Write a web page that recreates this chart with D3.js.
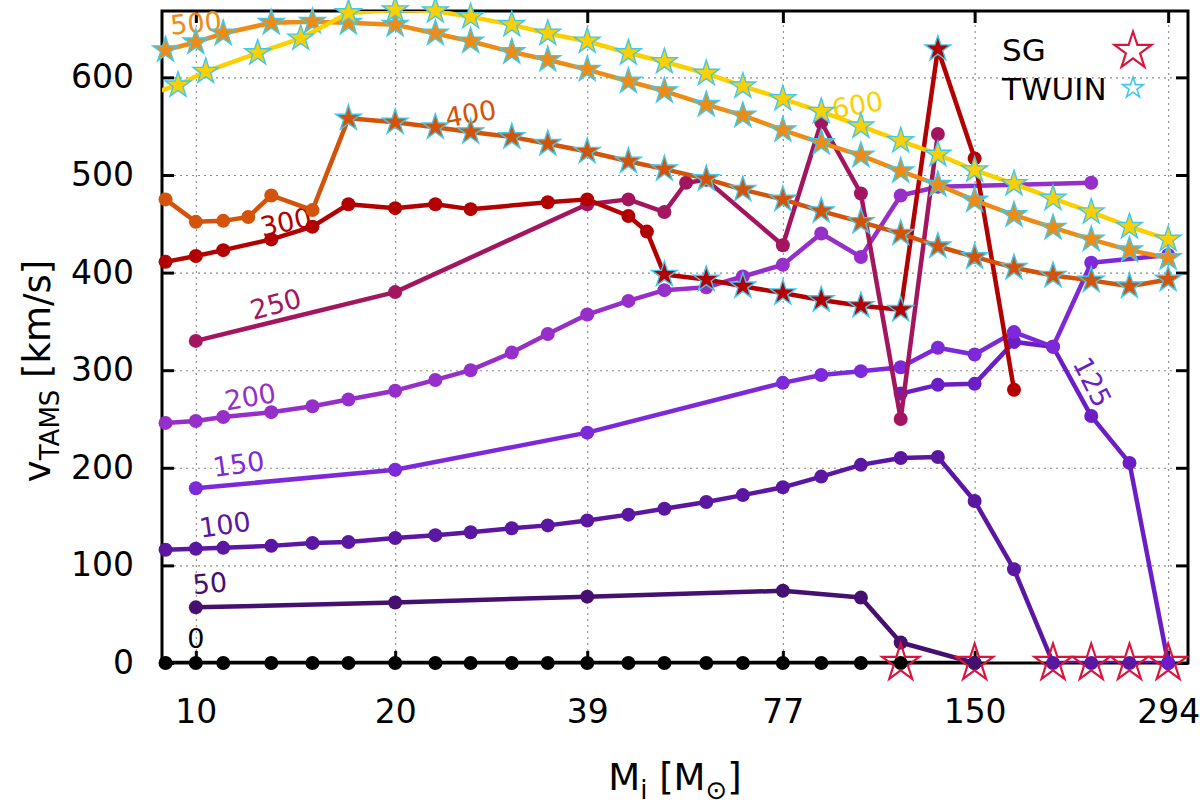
<!DOCTYPE html>
<html lang="en">
<head>
<meta charset="UTF-8">
<title>v_TAMS versus initial mass</title>
<script src="https://d3js.org/d3.v7.min.js"></script>
<style>
  body { margin: 0; background: #fff; }
  text { font-family: "DejaVu Sans", sans-serif; }
</style>
</head>
<body>
<div id="chart"></div>
<script>
// initial masses of the model grid [Msun]
const gridMass = [9,10,11,13,15,17,20,23,26,30,34,39,45,51,59,67,77,88,101,116,132,150,172,197,225,257,294];

// one pair of arrays per initial rotation (km/s)
const mass0 = [9,10,11,13,15,17,20,23,26,30,34,39,45,51,59,67,77,88,101,116,150];
const vel0  = [0,0,0,0,0,0,0,0,0,0,0,0,0,0,0,0,0,0,0,0,0];

const mass50 = [10,20,39,77,101,116,150];
const vel50  = [57,62,68,74,67,21,0];

const mass100 = gridMass;
const vel100  = [116,117,118,120,123,124,128,131,134,138,141,146,152,158,165,172,180,191,203,210,211,166,96,0,0,0,0];

const mass125 = [116,132,150,172,197,225,257,294];
const vel125  = [276,285,286,329,324,253,205,0];

const mass150 = [10,20,39,77,88,101,116,132,150,172,197,225,294];
const vel150  = [179,198,236,287,295,299,303,323,316,339,324,410,418];

const mass200 = [9,10,11,13,15,17,20,23,26,30,34,39,45,51,59,67,77,88,101,116,132,225];
const vel200  = [246,248,252,257,263,270,279,290,300,318,337,357,371,382,385,396,408,440,416,479,488,492];

const mass250 = [10,20,39,45,51,55,59,77,88,101,116,132];
const vel250  = [330,380,470,475,462,492,495,428,554,481,250,542];

const mass300  = [9,10,11,13,15,17,20,23,26,34,39,45,48,51,59,67,77,88,101,116,132,150,172];
const vel300   = [411,417,423,434,447,470,466,470,465,472,475,458,442,398,393,386,379,372,366,362,629,517,280];
const twuin300 = [51,59,67,77,88,101,116,132];

const mass400  = [9,10,11,12,13,15,17,20,23,26,30,34,39,45,51,59,67,77,88,101,116,132,150,172,197,225,257,294];
const vel400   = [475,452,453,457,479,464,558,554,549,544,539,532,524,514,506,496,485,475,463,452,440,427,416,405,397,392,386,393];
const twuin400 = [17,20,23,26,30,34,39,45,51,59,67,77,88,101,116,132,150,172,197,225,257,294];

const mass500  = gridMass;
const vel500   = [628,636,645,656,657,656,654,645,637,626,618,608,596,586,572,561,546,533,520,504,490,474,459,446,434,423,415];
const twuin500 = gridMass;

const mass600  = [8.5,9.4,10.35,12.4,14.4,17,20,23,26,30,34,39,45,51,59,67,77,88,101,116,132,150,172,197,225,257,294];
const vel600   = [583,592,606,625,640,666,669,668,662,654,645,637,625,616,604,591,578,565,550,535,521,505,491,476,462,447,434];
const twuin600 = mass600;

// supergiant (SG) end points
const sgMass = [116,150,197,225,257,294];
const sgVel  = [0,0,0,0,0,0];

// curve labels (text, placed in data units)
const labelText  = ["0","50","100","125","150","200","250","300","400","500","600"];
const labelMass  = [10, 10.5, 11.06, 226, 11.6, 12.08, 13.2, 13.67, 26, 10, 99.8];
const labelVel   = [25, 82, 142, 288, 204, 273, 368, 452, 563, 656, 572];
const labelAngle = [0, -5, -8, 63, -8, -10, -15, -12, -10, -5, -10];

const xTicks = [10,20,39,77,150,294];
const yTicks = [0,100,200,300,400,500,600];

const colors = {
  "0": "#000000", "50": "#45106f", "100": "#5b16a2", "125": "#6c1ec6", "150": "#7d29d9",
  "200": "#962fc9", "250": "#a3165f", "300": "#b30000", "400": "#d4530a", "500": "#ee8b15", "600": "#fcd000"
};
const twuinColor = "#3ec9ec";
const sgColor = "#dc143c";

const series = [
  {name: "0",   m: mass0,   v: vel0,   twuin: []},
  {name: "50",  m: mass50,  v: vel50,  twuin: []},
  {name: "100", m: mass100, v: vel100, twuin: []},
  {name: "125", m: mass125, v: vel125, twuin: []},
  {name: "150", m: mass150, v: vel150, twuin: []},
  {name: "200", m: mass200, v: vel200, twuin: []},
  {name: "250", m: mass250, v: vel250, twuin: []},
  {name: "300", m: mass300, v: vel300, twuin: twuin300},
  {name: "400", m: mass400, v: vel400, twuin: twuin400},
  {name: "500", m: mass500, v: vel500, twuin: twuin500},
  {name: "600", m: mass600, v: vel600, twuin: twuin600}
];

const width = 1200, height = 804;
const pLeft = 162, pRight = 1188, pTop = 11, pBottom = 663;

const x = d3.scaleLog().domain([8.89, 315]).range([pLeft, pRight]);
const y = d3.scaleLinear().domain([0, 668]).range([pBottom, pTop]);

const svg = d3.select("#chart").append("svg")
  .attr("width", width)
  .attr("height", height)
  .style("display", "block");

svg.append("defs").append("clipPath")
  .attr("id", "plotclip")
  .append("rect")
  .attr("x", pLeft).attr("y", pTop)
  .attr("width", pRight - pLeft).attr("height", pBottom - pTop);

// grid
const gridX = svg.append("g")
  .attr("transform", `translate(0,${pBottom})`)
  .call(d3.axisBottom(x).tickValues(xTicks).tickSize(-(pBottom - pTop)).tickFormat(""));
const gridY = svg.append("g")
  .attr("transform", `translate(${pLeft},0)`)
  .call(d3.axisLeft(y).tickValues(yTicks.slice(1)).tickSize(-(pRight - pLeft)).tickFormat(""));
[gridX, gridY].forEach(g => {
  g.select(".domain").remove();
  g.selectAll("line").attr("stroke", "#8a8a8a").attr("stroke-width", 1.1).attr("stroke-dasharray", "2,4");
});

// frame and axes
svg.append("rect")
  .attr("x", pLeft).attr("y", pTop)
  .attr("width", pRight - pLeft).attr("height", pBottom - pTop)
  .attr("fill", "none").attr("stroke", "#000").attr("stroke-width", 3);

const axB = svg.append("g").attr("transform", `translate(0,${pBottom})`)
  .call(d3.axisBottom(x).tickValues(xTicks).tickFormat(d3.format("d")).tickSizeInner(-12).tickSizeOuter(0).tickPadding(37));
const axT = svg.append("g").attr("transform", `translate(0,${pTop})`)
  .call(d3.axisTop(x).tickValues(xTicks).tickFormat("").tickSizeInner(-12).tickSizeOuter(0));
const axL = svg.append("g").attr("transform", `translate(${pLeft},0)`)
  .call(d3.axisLeft(y).tickValues(yTicks).tickSizeInner(-12).tickSizeOuter(0).tickPadding(28));
const axR = svg.append("g").attr("transform", `translate(${pRight},0)`)
  .call(d3.axisRight(y).tickValues(yTicks).tickFormat("").tickSizeInner(-12).tickSizeOuter(0));
[axB, axT, axL, axR].forEach(g => {
  g.select(".domain").remove();
  g.selectAll("line").attr("stroke", "#000").attr("stroke-width", 3);
  g.selectAll("text").attr("fill", "#000").style("font-size", "33px").style("font-family", "DejaVu Sans");
});

// axis titles
const xt = svg.append("text")
  .attr("x", (pLeft + pRight) / 2).attr("y", 790)
  .attr("text-anchor", "middle").style("font-size", "37px");
xt.append("tspan").text("M");
xt.append("tspan").attr("dy", 9).style("font-size", "26px").text("i");
xt.append("tspan").attr("dy", -9).text(" [M");
xt.append("tspan").attr("dy", 9).style("font-size", "26px").text("\u2299");
xt.append("tspan").attr("dy", -9).text("]");

const yt = svg.append("text")
  .attr("transform", "translate(50,371) rotate(-90)")
  .attr("text-anchor", "middle").style("font-size", "37px");
yt.append("tspan").text("v");
yt.append("tspan").attr("dy", 9).style("font-size", "26px").text("TAMS");
yt.append("tspan").attr("dy", -9).text(" [km/s]");

// curve labels (under the lines)
svg.append("g").selectAll("text")
  .data(labelText)
  .join("text")
  .attr("transform", (d, i) => `translate(${x(labelMass[i])},${y(labelVel[i])}) rotate(${labelAngle[i]})`)
  .attr("text-anchor", "middle")
  .attr("dy", "0.36em")
  .style("font-size", "27px")
  .attr("fill", d => colors[d])
  .text(d => d);

// series
const line = d3.line().x(d => x(d.m)).y(d => y(d.v));
const star = d3.symbol().type(d3.symbolStar);
const twuinSize = 13.5 * 13.5 / 0.8908;
const sgSize = 19.5 * 19.5 / 0.8908;

const plotG = svg.append("g");
series.forEach(s => {
  const pts = s.m.map((m, i) => ({m: m, v: s.v[i], tw: s.twuin.includes(m)}));
  const g = plotG.append("g");
  g.append("path")
    .datum(pts)
    .attr("clip-path", "url(#plotclip)")
    .attr("fill", "none")
    .attr("stroke", colors[s.name])
    .attr("stroke-width", 4.5)
    .attr("stroke-linejoin", "round")
    .attr("d", line);
  const shown = pts.filter(p => p.m >= x.domain()[0]);
  g.selectAll("circle")
    .data(shown.filter(p => !p.tw))
    .join("circle")
    .attr("cx", p => x(p.m))
    .attr("cy", p => y(p.v))
    .attr("r", 7)
    .attr("fill", colors[s.name]);
  g.selectAll("path.tw")
    .data(shown.filter(p => p.tw))
    .join("path")
    .attr("class", "tw")
    .attr("transform", p => `translate(${x(p.m)},${y(p.v)})`)
    .attr("d", star.size(twuinSize)())
    .attr("fill", colors[s.name])
    .attr("stroke", twuinColor)
    .attr("stroke-width", 1.4);
});

// SG markers
plotG.append("g").selectAll("path")
  .data(sgMass)
  .join("path")
  .attr("transform", (m, i) => `translate(${x(m)},${y(sgVel[i])})`)
  .attr("d", star.size(sgSize)())
  .attr("fill", "none")
  .attr("stroke", sgColor)
  .attr("stroke-width", 2.2);

// legend
const lg = svg.append("g").style("font-size", "31px");
lg.append("text").attr("x", 1002).attr("y", 61).text("SG");
lg.append("text").attr("x", 1002).attr("y", 100).text("TWUIN");
lg.append("path")
  .attr("transform", "translate(1133,51)")
  .attr("d", star.size(sgSize)())
  .attr("fill", "none").attr("stroke", sgColor).attr("stroke-width", 2.2);
lg.append("path")
  .attr("transform", "translate(1133,88)")
  .attr("d", star.size(11 * 11 / 0.8908)())
  .attr("fill", "none").attr("stroke", twuinColor).attr("stroke-width", 1.6);
</script>
</body>
</html>
